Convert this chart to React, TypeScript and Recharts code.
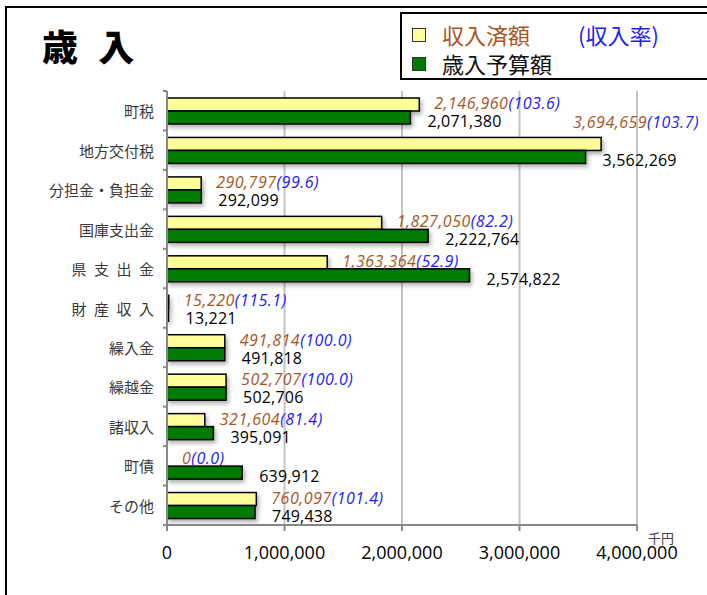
import React from 'react';
import {
  BarChart,
  Bar,
  XAxis,
  YAxis,
  CartesianGrid,
  LabelList
} from 'recharts';

const categories = ['町税', '地方交付税', '分担金・負担金', '国庫支出金', '県 支 出 金', '財 産 収 入', '繰入金', '繰越金', '諸収入', '町債', 'その他'];
const received = [2146960, 3694659, 290797, 1827050, 1363364, 15220, 491814, 502707, 321604, 0, 760097];
const rates = [103.6, 103.7, 99.6, 82.2, 52.9, 115.1, 100.0, 100.0, 81.4, 0.0, 101.4];
const budget = [2071380, 3562269, 292099, 2222764, 2574822, 13221, 491818, 502706, 395091, 639912, 749438];
const xTicks = [0, 1000000, 2000000, 3000000, 4000000];

const data = categories.map((name, i) => ({
  name,
  received: received[i],
  rate: rates[i],
  budget: budget[i]
}));

const W = 707;
const H = 595;
const TOP = 91;
const BOTTOM = 40;
const X_AXIS_H = 30;
const PLOT_H = H - TOP - BOTTOM - X_AXIS_H;
const BAND = PLOT_H / categories.length;

const BROWN = '#A8561E';
const BLUE = '#2020F8';
const numFmt = (v: number) => v.toLocaleString('en-US');

const BarShape = (props: any) => {
  const { x, y, width, height, fill } = props;
  if (!width || width <= 0) return null;
  return (
    <rect
      x={x}
      y={y}
      width={width}
      height={height}
      fill={fill}
      stroke="#000"
      strokeWidth={1.5}
      style={{ filter: 'drop-shadow(2px 3px 2px rgba(0,0,0,0.3))' }}
    />
  );
};

const CategoryTick = (props: any) => {
  const { x, y, payload, index } = props;
  const label = String(payload.value).replace(/ /g, '\u2002');
  return (
    <g>
      <line x1={x - 4} x2={x} y1={y - BAND / 2} y2={y - BAND / 2} stroke="#888" strokeWidth={2} />
      {index === categories.length - 1 && (
        <line x1={x - 4} x2={x} y1={y + BAND / 2} y2={y + BAND / 2} stroke="#888" strokeWidth={2} />
      )}
      <text
        x={x - 13}
        y={y}
        textAnchor="end"
        dominantBaseline="central"
        fill="#3a3a3a"
        fontSize={15}
        fontFamily='"Noto Sans CJK JP"'
      >
        {label}
      </text>
    </g>
  );
};

// 収入済額 + (収入率)
const ReceivedLabel = (props: any) => {
  const { x, y, width, height, index } = props;
  const v = received[index];
  const r = rates[index];
  const end = x + (width || 0);
  const tooWide = end + 140 > W;
  const tx = tooWide ? W - 8 : end + 15;
  const ty = tooWide ? y - 15 : y + height / 2 - 1.5;
  return (
    <text
      x={tx}
      y={ty}
      textAnchor={tooWide ? 'end' : 'start'}
      dominantBaseline="central"
      fontSize={16}
      fontStyle="italic"
      letterSpacing={0.5}
      fontFamily='"Open Sans"'
    >
      <tspan fill={BROWN}>{numFmt(v)}</tspan>
      <tspan fill={BLUE}>({r.toFixed(1)})</tspan>
    </text>
  );
};

const BudgetLabel = (props: any) => {
  const { x, y, width, height, index } = props;
  return (
    <text
      x={x + width + 17}
      y={y + height / 2 + 3.5}
      dominantBaseline="central"
      fontSize={16}
      letterSpacing={0.2}
      fill="#000"
      fontFamily='"Open Sans"'
    >
      {numFmt(budget[index])}
    </text>
  );
};

export default function App() {
  return (
    <div
      style={{
        position: 'fixed',
        left: 0,
        top: 0,
        width: W,
        height: H,
        overflow: 'hidden',
        background: '#fff',
        fontFamily: '"Open Sans", sans-serif'
      }}
    >
      {/* outer frame */}
      <div
        style={{
          position: 'absolute',
          left: 5,
          top: 6,
          width: 800,
          height: 700,
          borderLeft: '2px solid #000',
          borderTop: '2px solid #000'
        }}
      />
      <div
        style={{
          position: 'absolute',
          left: 42,
          top: 27,
          fontSize: 36,
          lineHeight: '36px',
          fontWeight: 900,
          letterSpacing: 6,
          whiteSpace: 'pre',
          fontFamily: '"Noto Sans CJK JP"',
          color: '#000'
        }}
      >
        歳 入
      </div>
      {/* legend */}
      <div
        style={{
          position: 'absolute',
          left: 400,
          top: 12,
          width: 400,
          height: 64,
          border: '2px solid #000',
          fontFamily: '"Noto Sans CJK JP"',
          fontSize: 22
        }}
      >
        <div style={{ position: 'absolute', left: 10, top: 14, width: 12, height: 12, background: '#FFFF99', border: '1px solid #333' }} />
        <div style={{ position: 'absolute', left: 40, top: 5, lineHeight: '30px', whiteSpace: 'pre' }}>
          <span style={{ color: BROWN }}>収入済額</span>
          <span style={{ color: BLUE, marginLeft: 48 }}>(収入率)</span>
        </div>
        <div style={{ position: 'absolute', left: 10, top: 43, width: 12, height: 12, background: '#007A00', border: '1px solid #333' }} />
        <div style={{ position: 'absolute', left: 40, top: 34, lineHeight: '30px', color: '#111' }}>歳入予算額</div>
      </div>
      <div
        style={{
          position: 'absolute',
          left: 648,
          top: 531,
          fontSize: 13,
          lineHeight: '14px',
          color: '#444',
          fontFamily: '"Noto Sans CJK JP"'
        }}
      >
        千円
      </div>
      <div style={{ position: 'absolute', left: 0, top: 0 }}>
        <BarChart
          width={W}
          height={H}
          data={data}
          layout="vertical"
          margin={{ top: TOP, right: 70, bottom: BOTTOM, left: 0 }}
          barSize={13}
          barGap={0}
        >
          <CartesianGrid horizontal={false} stroke="#c4c4c4" strokeWidth={2} />
          <XAxis
            type="number"
            domain={[0, 4000000]}
            ticks={xTicks}
            tickFormatter={numFmt}
            height={X_AXIS_H}
            axisLine={{ stroke: '#888', strokeWidth: 2 }}
            tickLine={{ stroke: '#888', strokeWidth: 2 }}
            tickSize={6}
            tickMargin={15}
            tick={{ fill: '#000', fontSize: 18 }}
            interval={0}
          />
          <YAxis
            type="category"
            dataKey="name"
            width={167}
            axisLine={{ stroke: '#888', strokeWidth: 2 }}
            tickLine={false}
            tickSize={0}
            tickMargin={0}
            tick={<CategoryTick />}
            interval={0}
          />
          <Bar dataKey="received" fill="#FFFF99" shape={<BarShape />} isAnimationActive={false}>
            <LabelList dataKey="received" content={<ReceivedLabel />} />
          </Bar>
          <Bar dataKey="budget" fill="#007A00" shape={<BarShape />} isAnimationActive={false}>
            <LabelList dataKey="budget" content={<BudgetLabel />} />
          </Bar>
        </BarChart>
      </div>
    </div>
  );
}
